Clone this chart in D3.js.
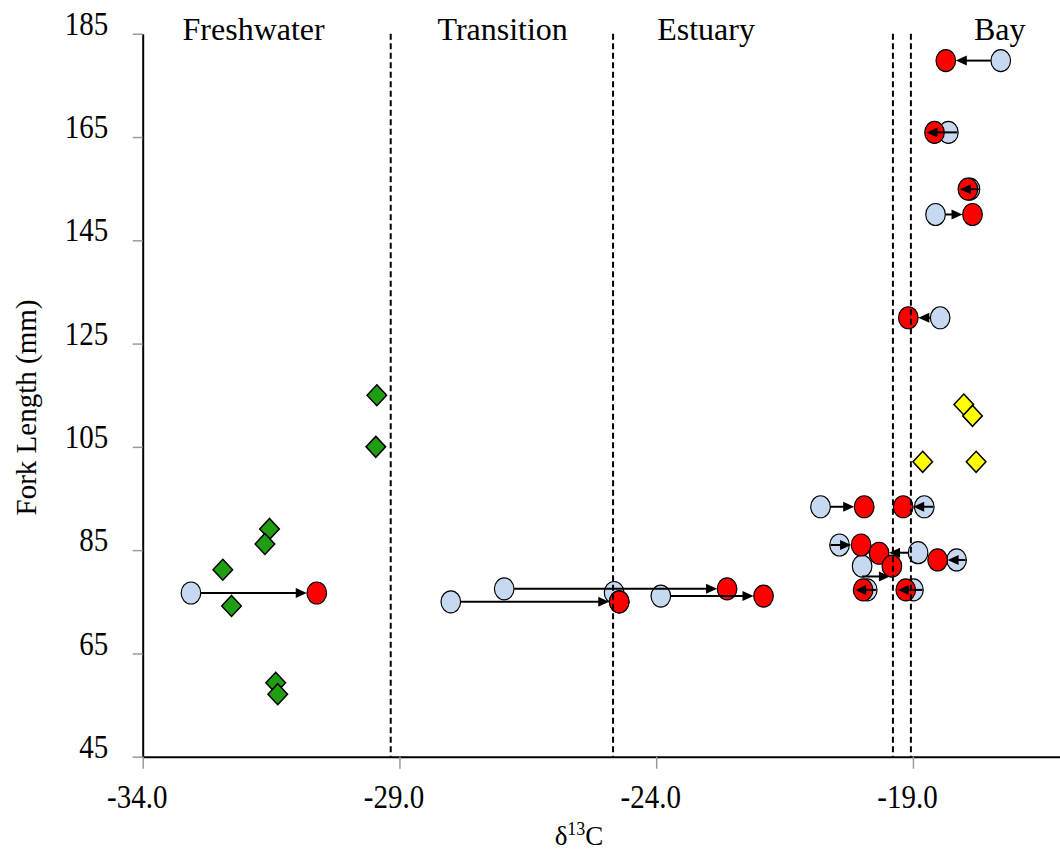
<!DOCTYPE html>
<html>
<head>
<meta charset="utf-8">
<script src="https://cdn.jsdelivr.net/npm/d3@7"></script>
<style>
  html, body { margin: 0; padding: 0; background: #ffffff; }
  svg { display: block; }
  text { font-family: "Liberation Serif", "Times New Roman", serif; fill: #000; }
</style>
</head>
<body>
<svg id="chart" width="1060" height="852"></svg>
<script>
// ---------------- data ----------------
// paired fish: blue = earlier signal, red = later signal
const blueX = [-33.06, -28.00, -26.96, -24.82, -23.91, -17.29, -18.31, -17.89, -18.56, -18.47, -20.80, -18.78, -20.43, -18.90, -18.15, -19.99, -19.89, -18.99];
const blueY = [76.7, 75.0, 77.5, 76.8, 76.1, 179.8, 165.9, 154.9, 150.0, 130.0, 93.4, 93.4, 86.0, 84.5, 83.1, 81.9, 77.3, 77.3];
const redX  = [-30.61, -24.72, -22.62, -24.72, -21.91, -18.36, -18.58, -17.93, -17.84, -19.09, -19.95, -19.19, -20.01, -19.66, -18.52, -19.41, -19.97, -19.14];
const redY  = [76.7, 75.0, 77.5, 75.0, 76.1, 179.8, 165.9, 154.9, 150.0, 130.0, 93.4, 93.4, 86.0, 84.4, 83.1, 81.9, 77.3, 77.3];
const arrowY = [76.7, 75.0, 77.5, null, 76.1, 179.8, 165.9, 154.9, 150.0, 130.0, 93.4, 93.4, 86.0, 84.5, 83.1, 79.9, 77.3, 77.3];

const greenX = [-29.44, -29.46, -31.53, -31.62, -32.44, -32.27, -31.41, -31.37];
const greenY = [115.0, 105.0, 89.1, 86.2, 81.2, 74.2, 59.3, 57.1];

const yellowX = [-18.01, -17.84, -18.81, -17.77];
const yellowY = [113.2, 111.0, 102.1, 102.1];

const boundaryX = [-29.17, -24.84, -19.39, -19.04];
const regionNames = ["Freshwater", "Transition", "Estuary", "Bay"];
const regionLabelX = [-31.84, -26.99, -23.03, -17.31];

const xTicks = [-34, -29, -24, -19];
const yTicks = [45, 65, 85, 105, 125, 145, 165, 185];
const xDomain = [-34, -16];
const yDomain = [45, 185];

// ---------------- drawing ----------------
const svg = d3.select("#chart");
const plotLeft = 142.7, plotTop = 33.75, plotBottom = 756.7;
const stretch = 1.15;
const x = d3.scaleLinear().domain(xDomain).range([plotLeft, plotLeft + 51.35 * (xDomain[1] - xDomain[0])]);
const y = d3.scaleLinear().domain(yDomain).range([plotBottom, plotTop]);

// axes
const yAxis = svg.append("g").attr("transform", `translate(${plotLeft},0)`)
  .call(d3.axisLeft(y).tickValues(yTicks).tickSize(10).tickSizeOuter(0).tickPadding(24.4).tickFormat(d => d));
yAxis.attr("font-family", null).attr("font-size", null);
yAxis.select(".domain").attr("stroke", "#000").attr("stroke-width", 2);
yAxis.selectAll(".tick line").attr("stroke", "#9a9a9a").attr("stroke-width", 1.5);
yAxis.selectAll(".tick text").attr("dy", "0").attr("y", 0.5).attr("transform", `scale(1,${stretch})`).style("font-size", "29px");

const xAxis = svg.append("g").attr("transform", `translate(0,${plotBottom})`)
  .call(d3.axisBottom(x).tickValues(xTicks).tickSize(12).tickSizeOuter(0).tickFormat(d => d.toFixed(1)));
xAxis.attr("font-family", null).attr("font-size", null);
xAxis.select(".domain").attr("stroke", "#000").attr("stroke-width", 2);
xAxis.selectAll(".tick line").attr("stroke", "#9a9a9a").attr("stroke-width", 1.5);
xAxis.selectAll(".tick text").attr("dy", "0").attr("y", 51.3 / stretch).attr("x", -6)
  .attr("transform", `scale(1,${stretch})`).style("font-size", "29px");

// fish pairs
const fish = blueX.map((bx, i) => ({ bx: blueX[i], by: blueY[i], rx: redX[i], ry: redY[i], ay: arrowY[i] }));
const rX = 9.8, rY = 11;

svg.append("g").selectAll("ellipse").data(fish).join("ellipse")
  .attr("cx", d => x(d.bx)).attr("cy", d => y(d.by)).attr("rx", rX).attr("ry", rY)
  .attr("fill", "#c6d9f0").attr("stroke", "#000").attr("stroke-width", 1.2);

svg.append("g").selectAll("ellipse").data(fish).join("ellipse")
  .attr("cx", d => x(d.rx)).attr("cy", d => y(d.ry)).attr("rx", rX).attr("ry", rY)
  .attr("fill", "#ff0000").attr("stroke", "#000").attr("stroke-width", 1.2);

// diamonds
const diamond = (cx, cy) => `M${cx},${cy - 10.5}L${cx + 9.8},${cy}L${cx},${cy + 10.5}L${cx - 9.8},${cy}Z`;
svg.append("g").selectAll("path").data(greenX.map((v, i) => [v, greenY[i]])).join("path")
  .attr("d", d => diamond(x(d[0]), y(d[1])))
  .attr("fill", "#1f9e12").attr("stroke", "#000").attr("stroke-width", 1.5);
svg.append("g").selectAll("path").data(yellowX.map((v, i) => [v, yellowY[i]])).join("path")
  .attr("d", d => diamond(x(d[0]), y(d[1])))
  .attr("fill", "#ffff00").attr("stroke", "#000").attr("stroke-width", 1.5);

// arrows
const arrows = fish.filter(d => d.ay !== null).map(d => {
  const bx = x(d.bx), rx = x(d.rx), ay = y(d.ay);
  const s = Math.sign(rx - bx), dist = Math.abs(rx - bx), r = 10;
  let x1, x2;
  if (Math.abs(d.ay - d.by) > 0.5) { x1 = bx; x2 = rx - s * 2; }
  else if (dist >= 2 * r + 8) { x1 = bx + s * r; x2 = rx - s * r; }
  else if (dist >= 15) { x1 = bx - s * 9; x2 = rx - s * r; }
  else { x1 = bx - s * 9; x2 = rx + s * 8; }
  return { x1, x2, ay, s };
});
const ag = svg.append("g");
const headL = 11, headW = 5;
ag.selectAll("line").data(arrows).join("line")
  .attr("x1", d => d.x1).attr("x2", d => d.x2 - d.s * headL * 0.8)
  .attr("y1", d => d.ay).attr("y2", d => d.ay)
  .attr("stroke", "#000").attr("stroke-width", 2);
ag.selectAll("path").data(arrows).join("path")
  .attr("d", d => `M${d.x2},${d.ay}L${d.x2 - d.s * headL},${d.ay - headW}L${d.x2 - d.s * headL},${d.ay + headW}Z`)
  .attr("fill", "#000");

// boundary dashed lines (on top)
svg.append("g").selectAll("line").data(boundaryX).join("line")
  .attr("x1", d => x(d)).attr("x2", d => x(d)).attr("y1", plotTop).attr("y2", plotBottom)
  .attr("stroke", "#000").attr("stroke-width", 2).attr("stroke-dasharray", "6,3.5");

// region labels
svg.append("g").selectAll("text").data(regionNames).join("text")
  .attr("x", (d, i) => x(regionLabelX[i])).attr("y", 40)
  .attr("text-anchor", "middle").style("font-size", "32px").text(d => d);

// axis titles
svg.append("text").attr("transform", "translate(36,407.5) rotate(-90)")
  .attr("text-anchor", "middle").style("font-size", "29px").text("Fork Length (mm)");

const xl = svg.append("text").attr("x", 579).attr("y", 845).attr("text-anchor", "middle").style("font-size", "27px");
xl.append("tspan").text("δ");
xl.append("tspan").attr("dy", -10).style("font-size", "18px").text("13");
xl.append("tspan").attr("dy", 10).text("C");
</script>
</body>
</html>
